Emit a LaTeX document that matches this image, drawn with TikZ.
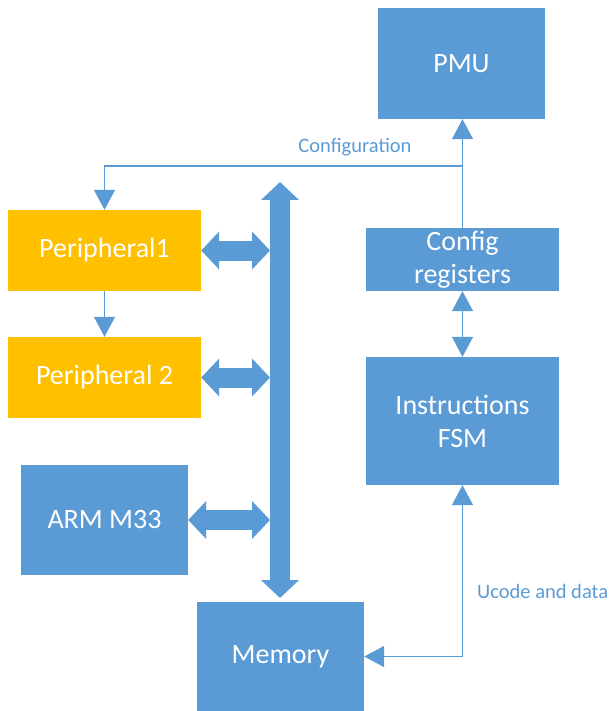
\documentclass[tikz,border=0pt]{standalone}
\usepackage{fontspec}
\setmainfont{Carlito}
\usepackage{tikz}
\usetikzlibrary{arrows.meta,positioning,calc}

\definecolor{msblue}{HTML}{5B9BD5}
\definecolor{msorange}{HTML}{FFC000}

\begin{document}
\begin{tikzpicture}[
        x=1pt, y=-1pt,
        font=\fontsize{28}{33}\selectfont,
        % Block styles
        block/.style={
            rectangle,
            inner sep=0pt,
            text=white,
            align=center,
            fill=#1
        },
        block/.default=msblue,
        flow/.style={
            draw=msblue,
            line width=1.3pt,
            -{Triangle[width=21pt,length=20pt]}
        },
        twoflow/.style={
            flow,
            {Triangle[width=21pt,length=20pt]}-{Triangle[width=21pt,length=20pt]}
        },
        busarrow/.style={
            draw=msblue,
            line width=20pt,
            {Triangle[width=37pt,length=18pt]}-{Triangle[width=37pt,length=18pt]}
        },
        label/.style={font=\fontsize{20.5}{25}\selectfont, text=msblue, inner sep=0pt}
    ]
    \useasboundingbox (0,0) rectangle (610,711);

    % Control side
    \node[block, minimum width=167pt, minimum height=111pt] (pmu) at (461.5, 63.5) {PMU};
    \node[block, minimum width=193pt, minimum height=63pt] (cfg) at (462.5, 259.5) {Config\\registers};
    \node[block, minimum width=193pt, minimum height=128pt] (fsm) at (462.5, 421) {Instructions\\FSM};

    % Bus side
    \node[block=msorange, minimum width=193pt, minimum height=81pt] (p1) at (104.5, 250.5) {Peripheral1};
    \node[block=msorange, minimum width=193pt, minimum height=81pt] (p2) at (104.5, 377.5) {Peripheral 2};
    \node[block, minimum width=167pt, minimum height=110pt] (arm) at (104.5, 520) {ARM M33};
    \node[block, minimum width=167pt, minimum height=109pt] (mem) at (280.5, 656.5) {Memory};

    % Bus
    \coordinate (bustop) at (280, 182);
    \coordinate (busbot) at (280, 598);
    \coordinate (busleft) at (270, 0);
    \draw[busarrow] (bustop) -- (busbot);

    % Connections
    \draw[busarrow] (p1.east) -- (p1.east -| busleft);
    \draw[busarrow] (p2.east) -- (p2.east -| busleft);
    \draw[busarrow] (arm.east) -- (arm.east -| busleft);

    \coordinate (split) at ($(cfg.north |- 0,166)$);
    \draw[flow] (cfg.north) -- (cfg.north |- pmu.south);
    \draw[flow] (split) -| (p1.north);
    \node[label] (conf) at (355, 147) {Configuration};
    \draw[flow] (p1.south) -- (p2.north);

    \draw[twoflow] (cfg.south) -- (fsm.north);
    \draw[twoflow] (mem.east) -| (fsm.south);
    \node[label, anchor=west] (ucode) at (477, 591) {Ucode and data};

\end{tikzpicture}
\end{document}
